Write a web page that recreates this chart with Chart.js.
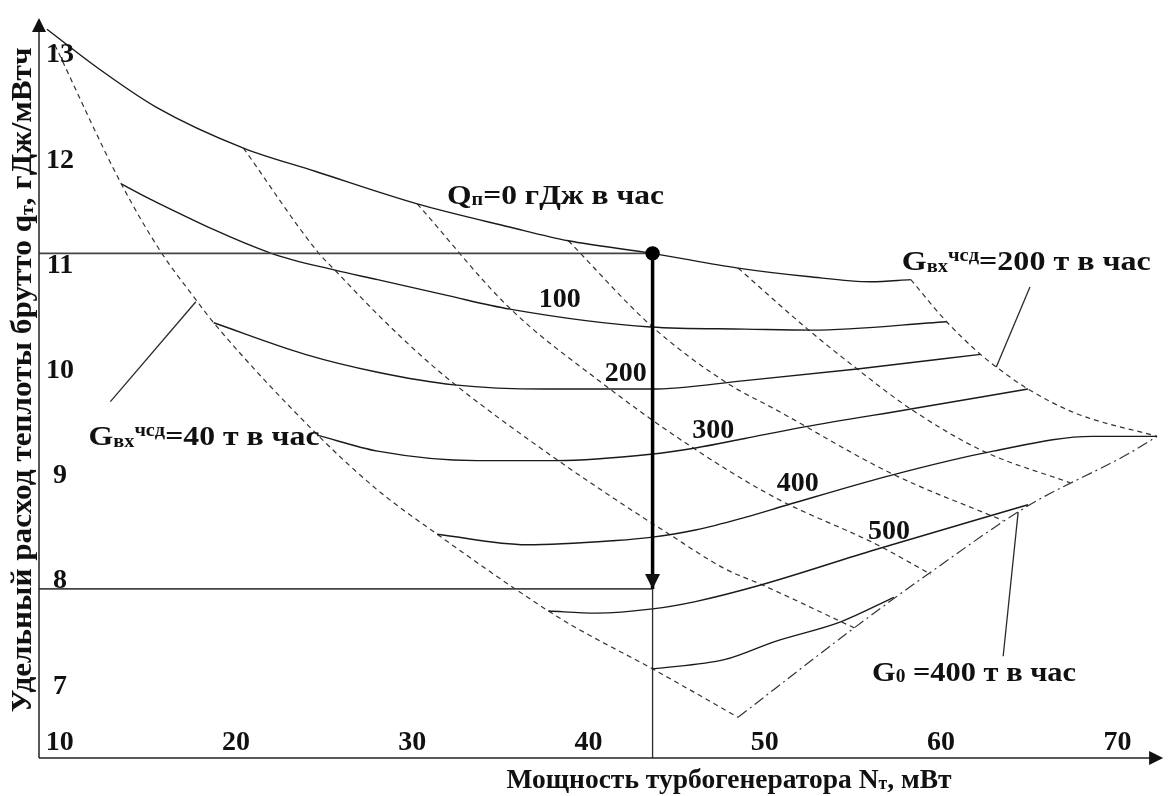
<!DOCTYPE html>
<html>
<head>
<meta charset="utf-8">
<script src="https://cdn.jsdelivr.net/npm/chart.js@4.4.1/dist/chart.umd.min.js"></script>
<style>
html, body { margin: 0; padding: 0; background: #fff; }
#wrap { width: 1172px; height: 796px; }
</style>
</head>
<body>
<div id="wrap"><canvas id="grafico" width="1172" height="796"></canvas></div>
<script>
// ticks
const xTicks = [10, 20, 30, 40, 50, 60, 70];
const yTicks = [7, 8, 9, 10, 11, 12, 13];

// Qп = const (сплошные линии): N, МВт -> q, ГДж/МВтч
const qp0N = [9.27, 12.25, 15.46, 20.42, 24.48, 30.28, 35.52, 38.85, 43.63, 48.48, 52.42, 56.03, 58.28];
const qp0Q = [13.22, 12.84, 12.48, 12.09, 11.87, 11.56, 11.34, 11.21, 11.09, 10.95, 10.87, 10.82, 10.84];
const qp100N = [13.49, 15.07, 22.0, 25.61, 28.03, 31.97, 35.52, 43.52, 48.87, 52.65, 60.31];
const qp100Q = [11.75, 11.61, 11.09, 10.93, 10.84, 10.69, 10.56, 10.39, 10.37, 10.36, 10.44];
const qp200N = [18.73, 23.92, 28.03, 32.37, 37.61, 43.52, 48.87, 55.24, 62.23];
const qp200Q = [10.43, 10.13, 9.96, 9.84, 9.80, 9.80, 9.88, 9.99, 10.13];
const qp300N = [24.65, 28.03, 33.66, 38.17, 43.52, 46.06, 48.87, 52.25, 58.28, 64.93];
const qp300Q = [9.36, 9.21, 9.12, 9.12, 9.18, 9.24, 9.33, 9.44, 9.61, 9.80];
const qp400N = [31.41, 36.48, 41.55, 43.52, 46.06, 48.87, 51.30, 57.15, 62.96, 68.59, 72.25];
const qp400Q = [8.42, 8.32, 8.36, 8.39, 8.46, 8.58, 8.70, 8.98, 9.21, 9.35, 9.35];
const qp500N = [37.72, 40.42, 43.63, 46.06, 49.61, 56.20, 64.93];
const qp500Q = [7.69, 7.67, 7.71, 7.78, 7.93, 8.27, 8.70];
const qp600N = [43.63, 47.75, 50.56, 54.34, 57.32];
const qp600Q = [7.14, 7.23, 7.40, 7.59, 7.82];

// Gвх = const (пунктир)
const gvx40N = [9.72, 13.49, 15.75, 17.72, 18.73, 24.65, 28.03, 31.41, 37.72, 39.30, 43.63, 48.48];
const gvx40Q = [13.07, 11.75, 11.10, 10.65, 10.43, 9.36, 8.84, 8.42, 7.69, 7.53, 7.14, 6.68];
const gvx2N = [20.42, 24.65, 25.61, 28.03, 30.28, 32.37, 38.28, 43.63, 44.20, 47.75, 49.83, 55.07];
const gvx2Q = [12.09, 11.10, 10.93, 10.51, 10.15, 9.85, 9.12, 8.52, 8.46, 8.09, 7.94, 7.53];
const gvx3N = [30.28, 35.52, 40.82, 45.66, 50.56, 56.37, 59.41];
const gvx3Q = [11.56, 10.57, 9.85, 9.27, 8.77, 8.32, 8.04];
const gvx4N = [38.85, 43.63, 47.92, 50.56, 57.15, 63.52];
const gvx4Q = [11.21, 10.39, 9.85, 9.61, 9.00, 8.55];
const gvx5N = [48.48, 52.42, 55.24, 58.28, 62.39, 67.30];
const gvx5Q = [10.95, 10.37, 9.99, 9.61, 9.21, 8.91];
const gvx200N = [58.28, 60.31, 62.23, 63.13, 64.93, 67.63, 72.25];
const gvx200Q = [10.84, 10.44, 10.13, 10.01, 9.80, 9.57, 9.35];

// G0 = 400 т/ч (штрихпунктир)
const g0N = [48.48, 55.07, 59.58, 64.93, 70.68, 72.25];
const g0Q = [6.68, 7.53, 8.08, 8.69, 9.19, 9.35];

// пример расчёта
const refN = 43.63;
const refQHigh = 11.09;
const refQLow = 7.90;

// выноски
const lead40N = [12.87, 17.72];
const lead40Q = [9.68, 10.63];
const lead200N = [65.04, 63.13];
const lead200Q = [10.77, 10.01];
const leadG0N = [63.52, 64.37];
const leadG0Q = [7.26, 8.63];

// подписи кривых Qп
const qpLabels = ["100", "200", "300", "400", "500"];
const qpLabelN = [38.37, 42.11, 47.07, 51.86, 57.04];
const qpLabelQ = [10.58, 9.88, 9.33, 8.83, 8.37];

const xMin = 8.82, xMax = 72.65;
const yMin = 6.293, yMax = 13.423;

const fuente = s => "bold " + s + "px 'Liberation Serif', 'Times New Roman', serif";

function serie(n, q, estilo) {
    return Object.assign({
        data: n.map((v, i) => ({ x: v, y: q[i] })),
        showLine: true,
        pointRadius: 0,
        fill: false,
        cubicInterpolationMode: "monotone",
        borderColor: "#1a1a1a",
        borderWidth: 1.4
    }, estilo);
}

const solida = {};
const rayada = { borderColor: "#333", borderWidth: 1.2, borderDash: [5, 4] };
const rayaPunto = { borderColor: "#333", borderWidth: 1.2, borderDash: [11, 4, 2, 4] };
const recta = { borderColor: "#2a2a2a", borderWidth: 1.3, cubicInterpolationMode: "default", tension: 0 };
const guia = { borderColor: "#444", borderWidth: 1.8, cubicInterpolationMode: "default", tension: 0 };

// texto con sub/superindices: [texto, 0 normal | 1 sub | 2 sup]
function textoRico(ctx, partes, x, y, size, opts) {
    opts = opts || {};
    let total = 0;
    const anchos = partes.map(p => {
        ctx.font = fuente(p[1] ? size * 0.64 : size);
        const w = ctx.measureText(p[0]).width;
        total += w;
        return w;
    });
    const sx = opts.width ? opts.width / total : 1;
    ctx.save();
    ctx.translate(x, y);
    if (opts.rotate) ctx.rotate(opts.rotate);
    ctx.scale(sx, 1);
    ctx.textAlign = "left";
    ctx.textBaseline = "alphabetic";
    ctx.fillStyle = "#111";
    let cx = opts.center ? -total / 2 : 0;
    partes.forEach((p, i) => {
        ctx.font = fuente(p[1] ? size * 0.64 : size);
        const dy = p[1] === 1 ? size * 0.05 : p[1] === 2 ? -size * 0.34 : 0;
        ctx.fillText(p[0], cx, dy);
        cx += anchos[i];
    });
    ctx.restore();
}

const dibujos = {
    id: "dibujos",
    afterDatasetsDraw(chart) {
        const ctx = chart.ctx;
        const xs = chart.scales.x, ys = chart.scales.y;
        const area = chart.chartArea;
        const x0 = xs.getPixelForValue(xMin);
        const y0 = ys.getPixelForValue(yMin);

        ctx.save();
        ctx.strokeStyle = "#222";
        ctx.fillStyle = "#111";
        ctx.lineWidth = 1.5;
        // ejes
        ctx.beginPath();
        ctx.moveTo(x0, y0);
        ctx.lineTo(x0, area.top + 20);
        ctx.moveTo(x0, y0);
        ctx.lineTo(area.right - 10, y0);
        ctx.stroke();
        ctx.beginPath();
        ctx.moveTo(x0, area.top + 10);
        ctx.lineTo(x0 - 7, area.top + 24);
        ctx.lineTo(x0 + 7, area.top + 24);
        ctx.closePath();
        ctx.fill();
        ctx.beginPath();
        ctx.moveTo(area.right - 1, y0);
        ctx.lineTo(area.right - 15, y0 - 7);
        ctx.lineTo(area.right - 15, y0 + 7);
        ctx.closePath();
        ctx.fill();

        // flecha del ejemplo
        const ax = xs.getPixelForValue(refN);
        const ay = ys.getPixelForValue(refQLow);
        ctx.beginPath();
        ctx.moveTo(ax, ay);
        ctx.lineTo(ax - 7.5, ay - 15);
        ctx.lineTo(ax + 7.5, ay - 15);
        ctx.closePath();
        ctx.fill();

        // ticks
        ctx.font = fuente(28);
        ctx.textAlign = "center";
        ctx.textBaseline = "alphabetic";
        xTicks.forEach(v => ctx.fillText(String(v), xs.getPixelForValue(v), y0 - 8));
        yTicks.forEach(v => ctx.fillText(String(v), x0 + 21, ys.getPixelForValue(v) + 10));

        // numeros de las curvas
        qpLabels.forEach((t, i) => {
            ctx.fillText(t, xs.getPixelForValue(qpLabelN[i]), ys.getPixelForValue(qpLabelQ[i]));
        });
        ctx.restore();

        textoRico(ctx, [["Q", 0], ["п", 1], ["=0 гДж в час", 0]],
            xs.getPixelForValue(31.97), ys.getPixelForValue(11.56), 28, { width: 217 });
        textoRico(ctx, [["G", 0], ["вх", 1], ["чсд", 2], ["=40 т в час", 0]],
            xs.getPixelForValue(11.63), ys.getPixelForValue(9.265), 28, { width: 231 });
        textoRico(ctx, [["G", 0], ["вх", 1], ["чсд", 2], ["=200 т в час", 0]],
            xs.getPixelForValue(57.77), ys.getPixelForValue(10.93), 28, { width: 249 });
        textoRico(ctx, [["G", 0], ["0", 1], [" =400 т в час", 0]],
            xs.getPixelForValue(56.08), ys.getPixelForValue(7.026), 28, { width: 204 });

        // titulos de ejes
        textoRico(ctx, [["Удельный расход теплоты брутто q", 0], ["т", 1], [", гДж/мВтч", 0]],
            x0 - 8, 380, 30, { width: 665, rotate: -Math.PI / 2, center: true });
        textoRico(ctx, [["Мощность турбогенератора N", 0], ["т", 1], [", мВт", 0]],
            729, y0 + 30, 28, { width: 445, center: true });
    }
};

const datasets = [
    serie([refN], [refQHigh], { showLine: false, pointRadius: 6.5, backgroundColor: "#000", borderColor: "#000" }),
    serie([refN, refN], [refQHigh, refQLow], { borderColor: "#000", borderWidth: 3.5, cubicInterpolationMode: "default", tension: 0 }),
    serie([xMin, refN], [refQHigh, refQHigh], guia),
    serie([xMin, refN], [refQLow, refQLow], guia),
    serie([refN, refN], [refQLow, yMin], recta),
    serie(qp0N, qp0Q, solida),
    serie(qp100N, qp100Q, solida),
    serie(qp200N, qp200Q, solida),
    serie(qp300N, qp300Q, solida),
    serie(qp400N, qp400Q, solida),
    serie(qp500N, qp500Q, solida),
    serie(qp600N, qp600Q, solida),
    serie(gvx40N, gvx40Q, rayada),
    serie(gvx2N, gvx2Q, rayada),
    serie(gvx3N, gvx3Q, rayada),
    serie(gvx4N, gvx4Q, rayada),
    serie(gvx5N, gvx5Q, rayada),
    serie(gvx200N, gvx200Q, rayada),
    serie(g0N, g0Q, rayaPunto),
    serie(lead40N, lead40Q, recta),
    serie(lead200N, lead200Q, recta),
    serie(leadG0N, leadG0Q, recta)
];

new Chart(document.getElementById("grafico").getContext("2d"), {
    type: "scatter",
    data: { datasets: datasets },
    options: {
        responsive: false,
        animation: false,
        events: [],
        layout: { padding: { left: 39, right: 0, top: 0, bottom: 38 } },
        plugins: { legend: { display: false }, tooltip: { enabled: false } },
        scales: {
            x: { type: "linear", min: xMin, max: xMax, display: false },
            y: { type: "linear", min: yMin, max: yMax, display: false }
        }
    },
    plugins: [dibujos]
});
</script>
</body>
</html>
